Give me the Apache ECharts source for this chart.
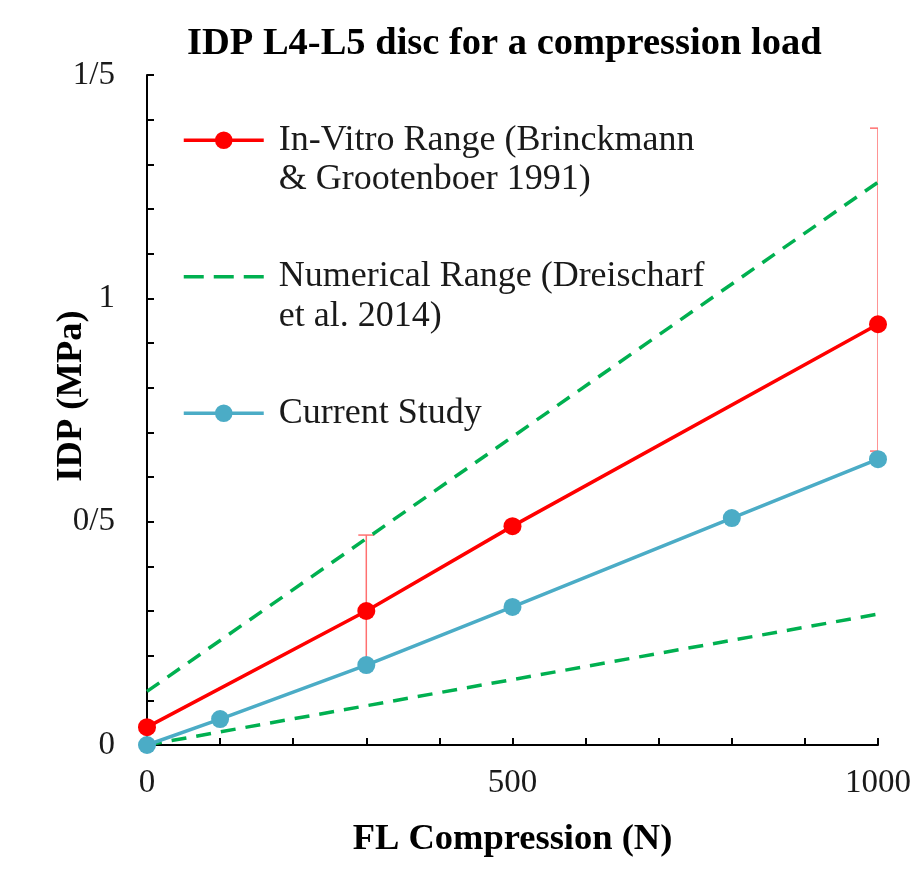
<!DOCTYPE html>
<html>
<head>
<meta charset="utf-8">
<script src="https://cdn.jsdelivr.net/npm/echarts@6/dist/echarts.min.js"></script>
<style>
  html, body { margin: 0; padding: 0; background: #fff; }
  #chart { width: 921px; height: 885px; }
</style>
</head>
<body>
<div id="chart"></div>
<script>
// Compression load (N) vs intradiscal pressure (MPa)
const inVitroLoad = [0, 300, 500, 1000];
const inVitroIDP = [0.04, 0.30, 0.49, 0.942];

// Error bars on the in-vitro range
const errLoad = [300, 1000];
const errLow = [0.179, 0.658];
const errHigh = [0.47, 1.381];

const studyLoad = [0, 100, 300, 500, 800, 1000];
const studyIDP = [0, 0.058, 0.179, 0.309, 0.508, 0.64];

const numLoad = [0, 1000];
const numUpper = [0.12, 1.26];
const numLower = [0, 0.293];

const xLabelValues = [0, 500, 1000];
const yLabelText = { 0: '0', 5: '0/5', 10: '1', 15: '1/5' };

const NAME_VITRO = 'In-Vitro Range (Brinckmann\n& Grootenboer 1991)';
const NAME_NUM = 'Numerical Range (Dreischarf\net al. 2014)';
const NAME_STUDY = 'Current Study';

const zip = (xs, ys) => xs.map((x, i) => [x, ys[i]]);

const serif = 'Liberation Serif';
const chart = echarts.init(document.getElementById('chart'), null, { renderer: 'canvas' });

chart.setOption({
  backgroundColor: '#ffffff',
  animation: false,
  title: {
    text: 'IDP L4-L5 disc for a compression load',
    left: 182,
    top: 20,
    textStyle: { fontFamily: serif, fontWeight: 'bold', fontSize: 38.5, color: '#000' }
  },
  legend: {
    orient: 'vertical',
    left: 182,
    top: 81,
    padding: 0,
    itemGap: 18,
    itemWidth: 80,
    itemHeight: 22,
    data: [
      NAME_VITRO,
      { name: NAME_NUM, itemStyle: { opacity: 0 }, lineStyle: { type: [20, 10] } },
      NAME_STUDY
    ],
    // a leading blank line keeps the first text line level with the key
    formatter: n => (n === NAME_STUDY ? '\n' + n + '\n ' : '\n' + n),
    lineStyle: { width: 3.5 },
    textStyle: {
      fontFamily: serif,
      fontSize: 36,
      lineHeight: 39.5,
      color: '#1a1a1a',
      padding: [0, 0, 0, 10]
    }
  },
  grid: { left: 147, right: 43, top: 75, bottom: 140 },
  xAxis: {
    type: 'value',
    min: 0,
    max: 1000,
    interval: 100,
    name: 'FL Compression (N)',
    nameLocation: 'middle',
    nameGap: 76,
    nameMoveOverlap: false,
    nameTextStyle: { fontFamily: serif, fontWeight: 'bold', fontSize: 36.5, color: '#000' },
    axisLine: { lineStyle: { color: '#000', width: 2 } },
    axisTick: { inside: true, length: 7, lineStyle: { color: '#000', width: 2 } },
    splitLine: { show: false },
    axisLabel: {
      fontFamily: serif,
      fontSize: 33,
      color: '#1a1a1a',
      margin: 22,
      formatter: v => (xLabelValues.includes(Math.round(v)) ? String(Math.round(v)) : '')
    }
  },
  yAxis: {
    type: 'value',
    min: 0,
    max: 1.5,
    interval: 0.1,
    name: 'IDP (MPa)',
    nameLocation: 'middle',
    nameGap: 57,
    nameMoveOverlap: false,
    nameTextStyle: {
      fontFamily: serif, fontWeight: 'bold', fontSize: 36.5, color: '#000',
      padding: [0, 0, 0, 28]
    },
    axisLine: { show: true, lineStyle: { color: '#000', width: 2 } },
    axisTick: { show: true, inside: true, length: 7, lineStyle: { color: '#000', width: 2 } },
    splitLine: { show: false },
    axisLabel: {
      fontFamily: serif,
      fontSize: 33,
      color: '#1a1a1a',
      margin: 32,
      formatter: v => {
        const k = Math.round(v * 10);
        return yLabelText[k] !== undefined ? yLabelText[k] : '';
      }
    }
  },
  series: [
    {
      name: 'errors',
      type: 'custom',
      clip: true,
      z: 1,
      silent: true,
      data: errLoad.map((x, i) => [x, errLow[i], errHigh[i]]),
      encode: { x: 0, y: [1, 2] },
      renderItem: (params, api) => {
        const lo = api.coord([api.value(0), api.value(1)]);
        const hi = api.coord([api.value(0), api.value(2)]);
        const cap = 8;
        const style = { stroke: '#ff7070', lineWidth: 1.5, fill: null };
        return {
          type: 'group',
          children: [
            { type: 'line', shape: { x1: lo[0], y1: lo[1], x2: hi[0], y2: hi[1] }, style },
            { type: 'line', shape: { x1: hi[0] - cap, y1: hi[1], x2: hi[0] + cap, y2: hi[1] }, style },
            { type: 'line', shape: { x1: lo[0] - cap, y1: lo[1], x2: lo[0] + cap, y2: lo[1] }, style }
          ]
        };
      }
    },
    {
      name: NAME_NUM,
      type: 'line',
      z: 2,
      data: zip(numLoad, numUpper),
      showSymbol: false,
      symbol: 'none',
      color: '#00b050',
      lineStyle: { color: '#00b050', width: 3.5, type: [15, 10] }
    },
    {
      name: NAME_NUM,
      type: 'line',
      z: 2,
      data: zip(numLoad, numLower),
      showSymbol: false,
      symbol: 'none',
      color: '#00b050',
      lineStyle: { color: '#00b050', width: 3.5, type: [15, 10] }
    },
    {
      name: NAME_VITRO,
      type: 'line',
      z: 3,
      data: zip(inVitroLoad, inVitroIDP),
      symbol: 'circle',
      symbolSize: 18,
      color: '#ff0000',
      lineStyle: { color: '#ff0000', width: 3.5 },
      itemStyle: { color: '#ff0000' }
    },
    {
      name: NAME_STUDY,
      type: 'line',
      z: 4,
      data: zip(studyLoad, studyIDP),
      symbol: 'circle',
      symbolSize: 18,
      color: '#4bacc6',
      lineStyle: { color: '#4bacc6', width: 3.5 },
      itemStyle: { color: '#4bacc6' }
    }
  ]
});
</script>
</body>
</html>
